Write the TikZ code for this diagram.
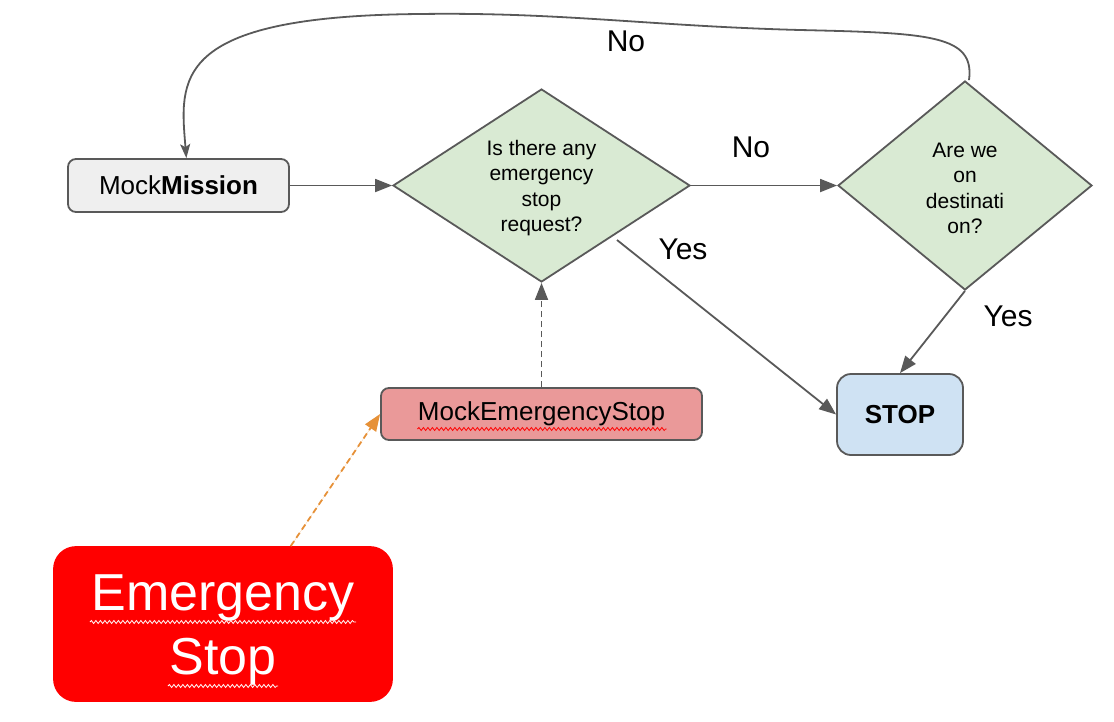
\documentclass[tikz,border=0pt]{standalone}
\usepackage{fontspec}
\setmainfont{Liberation Sans}
\usetikzlibrary{shapes.geometric, arrows.meta, decorations.pathmorphing, calc}

\definecolor{linha}{HTML}{595959}
\definecolor{cinzaclaro}{HTML}{EFEFEF}
\definecolor{verde}{HTML}{D9EAD3}
\definecolor{azul}{HTML}{CFE2F3}
\definecolor{rosa}{HTML}{EA9999}
\definecolor{laranja}{HTML}{E69138}

\begin{document}
\begin{tikzpicture}[x=1pt, y=-1pt,
  caixa/.style={draw=linha, line width=1.8pt, rounded corners=8pt, inner sep=0pt,
    font=\fontsize{26}{31}\selectfont},
  pergunta/.style={diamond, draw=linha, line width=1.8pt, fill=verde, inner sep=0pt,
    align=center, font=\fontsize{21}{25.5}\selectfont},
  rotulo/.style={font=\fontsize{30}{36}\selectfont},
  seta/.style={draw=linha, line width=1.8pt, -{Triangle[length=17pt,width=13pt]}},
  onda/.style={decorate, decoration={snake, amplitude=1.5pt, segment length=4.5pt}, line width=0.8pt}]

\useasboundingbox (0,0) rectangle (1114,721);

% Caixas
\node[caixa, fill=cinzaclaro, minimum width=221, minimum height=53] (mission) at (178.5,185.5) {Mock\textbf{Mission}};
\node[caixa, fill=azul, rounded corners=14pt, minimum width=126, minimum height=81] (stop) at (900,414.5) {\textbf{STOP}};
\node[caixa, fill=rosa, minimum width=321, minimum height=52] (estop) at (541.5,414) {MockEmergencyStop};
\node[caixa, draw=red, fill=red, rounded corners=22pt, minimum width=338, minimum height=154,
  text=white, align=center, font=\fontsize{52}{64}\selectfont] (ebtn) at (223,624) {\rule{0pt}{48pt}Emergency\\Stop};

% Perguntas
\node[pergunta, aspect=1.54, minimum width=297, minimum height=193] (q1) at (541.5,185.5) {\rule{0pt}{20pt}Is there any\\emergency\\stop\\request?};
\node[pergunta, aspect=1.2, minimum width=254, minimum height=209] (q2) at (965,185.5) {\rule{0pt}{20pt}Are we\\on\\destinati\\on?};

% Sublinhado do corretor
\draw[onda, red] ($(estop.center)+(-124,15)$) -- ($(estop.center)+(125,15)$);
\draw[onda, white] ($(ebtn.center)+(-133,-2)$) -- ($(ebtn.center)+(133,-2)$);
\draw[onda, white] ($(ebtn.center)+(-55,62)$) -- ($(ebtn.center)+(55,62)$);

% Setas
\draw[seta] (mission.east) -- (q1.west);
\draw[seta] (q1.east) -- (q2.west);
\coordinate (yesStart) at (617,240);
\draw[seta] (yesStart) -- (stop.west);
\draw[seta] (q2.south) -- (stop.north);
\draw[seta, dash pattern=on 6pt off 4pt] (estop.north) -- (q1.south);
\draw[seta, draw=laranja, fill=laranja, dash pattern=on 6pt off 4pt] (ebtn.49) -- (estop.west);

% Volta para o inicio
\draw[draw=linha, line width=1.8pt, -{Stealth[length=14pt,width=10pt,inset=3pt]}]
  ($(q2.north)+(4,0)$) .. controls (975,35) and (930,33) .. (800,30)
  .. controls (650,26) and (560,12) .. (420,14)
  .. controls (170,16) and (180,80) .. (mission.74);

% Rotulos
\node[rotulo] (noTop) at (626,41) {No};
\node[rotulo] (noMid) at (751,147) {No};
\node[rotulo] (yesOne) at (683,249) {Yes};
\node[rotulo] (yesTwo) at (1008,316) {Yes};

\end{tikzpicture}
\end{document}
